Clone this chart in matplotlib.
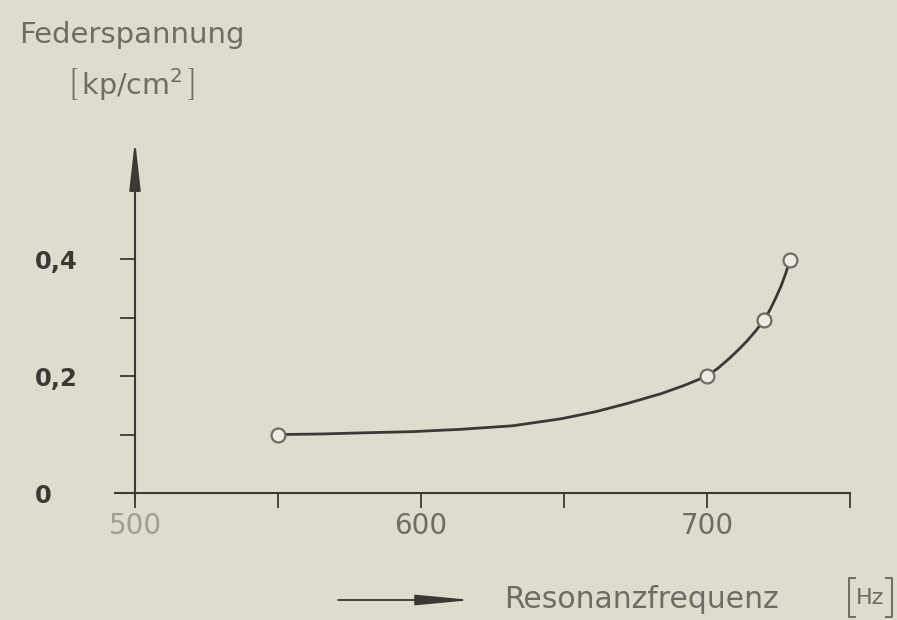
import matplotlib
matplotlib.use("Agg")
import matplotlib.pyplot as plt
from matplotlib.lines import Line2D

# measured points (markers)
freq_pts = [550, 700, 720, 729]
stress_pts = [0.1, 0.2, 0.296, 0.398]

# curve
curve_x = [550, 565, 580, 597, 614, 632, 649, 661, 672, 684, 692, 700, 704, 708, 711, 714, 717, 720, 722, 724, 726, 727.5, 729]
curve_y = [0.1, 0.101, 0.103, 0.105, 0.109, 0.115, 0.127, 0.139, 0.153, 0.170, 0.184, 0.2, 0.214, 0.231, 0.245, 0.260, 0.277, 0.296, 0.313, 0.333, 0.355, 0.375, 0.398]

x_ticks = [500, 550, 600, 650, 700, 750]
x_ticklabels = ["500", "", "600", "", "700", ""]
y_ticks = [0, 0.1, 0.2, 0.3, 0.4]
y_ticklabels = ["0", "", "0,2", "", "0,4"]

BG = "#dfdbcf"
INK = "#3b3934"
GREY = "#6f6c65"
LIGHT = "#a19d94"

fig = plt.figure(figsize=(8.97, 6.2), dpi=100, facecolor=BG)
ax = fig.add_axes([0.1505, 0.2048, 0.797, 0.561])
ax.set_facecolor(BG)
ax.set_xlim(500, 750)
ax.set_ylim(0, 0.595)

for s in ["top", "right", "left"]:
    ax.spines[s].set_visible(False)
ax.spines["bottom"].set_color(INK)
ax.spines["bottom"].set_linewidth(1.5)

# y axis with arrow
ax.annotate("", xy=(0, 1.015), xytext=(0, -0.015), xycoords="axes fraction",
            arrowprops=dict(arrowstyle="-|>,head_length=1.5,head_width=0.17",
                            mutation_scale=20, color=INK, lw=1.5,
                            shrinkA=0, shrinkB=0))
ax.plot([493, 500], [0, 0], color=INK, lw=1.5, clip_on=False)

ax.set_xticks(x_ticks)
ax.set_xticklabels(x_ticklabels)
ax.set_yticks(y_ticks)
ax.set_yticklabels(y_ticklabels)
ax.tick_params(axis="x", direction="out", length=11, width=1.3, color=INK,
               labelsize=20, labelcolor=GREY, pad=3)
ax.tick_params(axis="y", direction="out", length=11, width=1.3, color=INK,
               labelsize=17.5, labelcolor=INK, pad=61)
for lbl in ax.get_yticklabels():
    lbl.set_fontweight("bold")
    lbl.set_horizontalalignment("left")
ax.get_xticklabels()[0].set_color(LIGHT)

ax.plot(curve_x, curve_y, color=INK, lw=2.0, zorder=3)
ax.plot(freq_pts, stress_pts, linestyle="none", marker="o", markersize=10,
        markerfacecolor="#eeebe3", markeredgecolor=GREY, markeredgewidth=1.6, zorder=4)

# y label
fig.text(19 / 897, 1 - 35 / 620, "Federspannung", fontsize=21, color=GREY,
         ha="left", va="center")
fig.text(131 / 897, 1 - 84 / 620, r"$\left[\,\mathrm{kp/cm^2}\,\right]$", fontsize=20.5,
         color=GREY, ha="center", va="center")

# x label
ax.annotate("", xy=(472 / 897, 1 - 600 / 620), xytext=(338 / 897, 1 - 600 / 620),
            xycoords="figure fraction",
            arrowprops=dict(arrowstyle="-|>,head_length=1.7,head_width=0.16",
                            mutation_scale=20, color=INK, lw=1.3,
                            shrinkA=0, shrinkB=0))
fig.text(504 / 897, 1 - 600 / 620, "Resonanzfrequenz", fontsize=21.5, color=GREY,
         ha="left", va="center")
fig.text(870 / 897, 1 - 598 / 620, "Hz", fontsize=16, color=GREY,
         ha="center", va="center")


def bracket(x0, y0, y1, serif):
    W, H = 897.0, 620.0
    xs = [(x0 + serif) / W, x0 / W, x0 / W, (x0 + serif) / W]
    ys = [1 - y0 / H, 1 - y0 / H, 1 - y1 / H, 1 - y1 / H]
    fig.add_artist(Line2D(xs, ys, color=GREY, lw=1.4))


bracket(849, 578, 617, 6)
bracket(892, 578, 617, -6)

fig.savefig("out.png", dpi=100, facecolor=BG)
